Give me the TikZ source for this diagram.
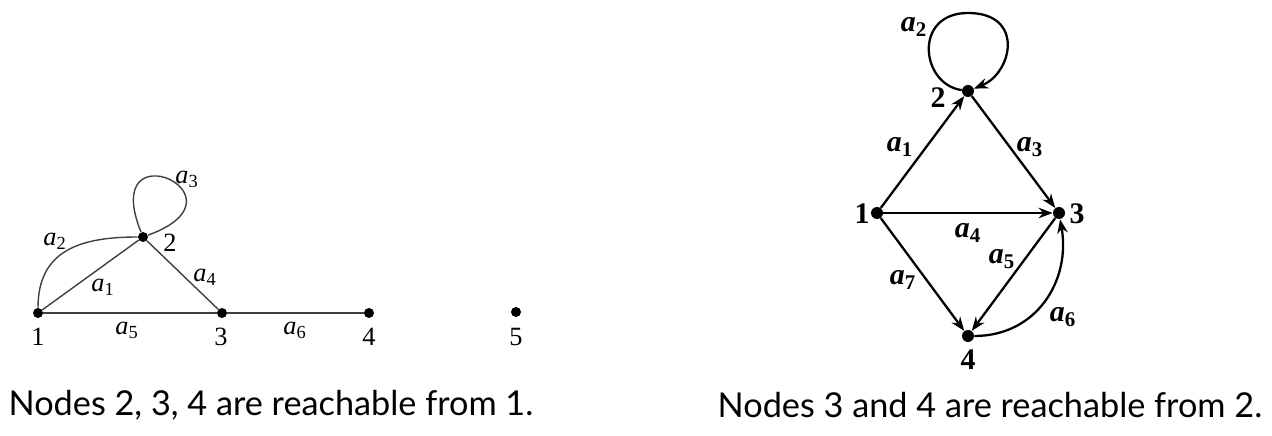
\documentclass[tikz,border=0pt]{standalone}
\usepackage{fontspec}
\setmainfont{Liberation Serif}
\newfontfamily\capfont{Lato}
\usetikzlibrary{arrows.meta}
\newcommand{\alab}[1]{\textit{a}\textsubscript{#1}}
\begin{document}
\begin{tikzpicture}[x=0.02cm, y=0.02cm,
        dotl/.style={circle, fill=black, inner sep=0pt, minimum size=0.2cm},
        dotr/.style={circle, fill=black, inner sep=0pt, minimum size=0.24cm},
        lbl/.style={font=\fontsize{15}{17}\selectfont, inner sep=0pt},
        lblr/.style={font=\fontsize{17}{19}\selectfont\bfseries, inner sep=0pt},
        edgel/.style={draw=black!75, line width=0.8pt},
        edger/.style={draw=black, line width=1.3pt, -{Stealth[length=8pt, width=6pt]}},
        caption/.style={font=\capfont\fontsize{19.5}{22}\selectfont}
    ]
        \useasboundingbox (0,0) rectangle (1272,436);

        % Undirected graph
        \node[dotl] (n1) at (38,123) {};
        \node[dotl] (n2) at (143,199) {};
        \node[dotl] (n3) at (222,123) {};
        \node[dotl] (n4) at (369,123) {};
        \node[dotl] (n5) at (516,124) {};

        \draw[edgel] (n1) -- (n2);
        \draw[edgel] (n1) to[out=90, in=180, looseness=1.2] (n2);
        \draw[edgel] (n2) .. controls +(112:120) and +(20:120) .. (n2);
        \draw[edgel] (n2) -- (n3);
        \draw[edgel] (n1) -- (n3);
        \draw[edgel] (n3) -- (n4);

        \node[lbl] (t1) at (38,99) {1};
        \node[lbl] (t2) at (170,193) {2};
        \node[lbl] (t3) at (221,99) {3};
        \node[lbl] (t4) at (369,99) {4};
        \node[lbl] (t5) at (516,99) {5};
        \node[lbl] (la1) at (103,149) {\alab{1}};
        \node[lbl] (la2) at (55,195) {\alab{2}};
        \node[lbl] (la3) at (187,257) {\alab{3}};
        \node[lbl] (la4) at (205,159) {\alab{4}};
        \node[lbl] (la5) at (127,106) {\alab{5}};
        \node[lbl] (la6) at (295,106) {\alab{6}};

        % Directed graph
        \node[dotr] (r1) at (877,223) {};
        \node[dotr] (r2) at (968,345) {};
        \node[dotr] (r3) at (1059,223) {};
        \node[dotr] (r4) at (968,100) {};
        \coordinate (r2top) at (968,423);

        \draw[edger] (r1) -- (r2);
        \draw[edger] (r2) .. controls +(172:48) and +(180:55) .. (r2top)
            .. controls +(0:57) and +(22:48) .. (r2);
        \draw[edger] (r2) -- (r3);
        \draw[edger] (r1) -- (r3);
        \draw[edger] (r3) -- (r4);
        \draw[edger] (r4) to[out=0, in=-80, looseness=1.1] (r3);
        \draw[edger] (r1) -- (r4);

        \node[lblr] (s1) at (862,222) {1};
        \node[lblr] (s2) at (938,338) {2};
        \node[lblr] (s3) at (1077,222) {3};
        \node[lblr] (s4) at (968,76) {4};
        \node[lblr] (b1) at (900,289) {\alab{1}};
        \node[lblr] (b2) at (914,409) {\alab{2}};
        \node[lblr] (b3) at (1030,289) {\alab{3}};
        \node[lblr] (b4) at (968,203) {\alab{4}};
        \node[lblr] (b5) at (1002,177) {\alab{5}};
        \node[lblr] (b6) at (1063,119) {\alab{6}};
        \node[lblr] (b7) at (903,156) {\alab{7}};

        % Captions
        \node[caption] (capl) at (271,31) {Nodes 2, 3, 4 are reachable from 1.};
        \node[caption] (capr) at (990,31) {Nodes 3 and 4 are reachable from 2.};
    \end{tikzpicture}
\end{document}
